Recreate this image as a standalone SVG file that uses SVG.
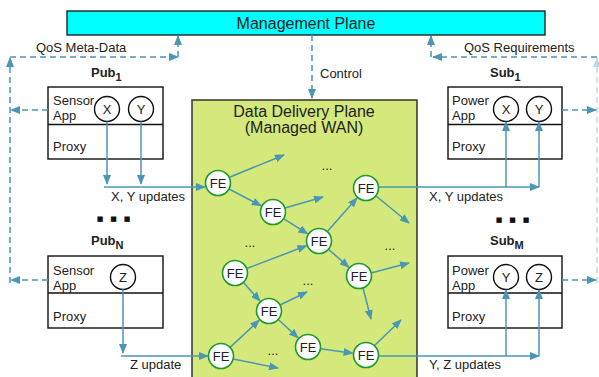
<svg xmlns="http://www.w3.org/2000/svg" width="599" height="377" viewBox="0 0 599 377">
<defs>
<marker id="ah" markerWidth="10" markerHeight="8" refX="9" refY="4" orient="auto" markerUnits="userSpaceOnUse">
<path d="M0,0 L10,4 L0,8 z" fill="#4a96b4"/>
</marker>
<style>
text{font-family:"Liberation Sans",Arial,sans-serif;fill:#222;}
.t13{font-size:13px;}
.big{font-size:16px;}
.bold{font-weight:bold;font-size:13px;}
.box{fill:#fff;stroke:#111;stroke-width:1.4;}
.c{fill:#fff;stroke:#111;stroke-width:1.4;}
.fe{fill:#fff;stroke:#1f9a2c;stroke-width:1.6;}
.ln{fill:none;stroke:#4a96b4;stroke-width:1.5;marker-end:url(#ah);}
.dsa{fill:none;stroke:#4a96b4;stroke-width:1.5;stroke-dasharray:6 4;marker-end:url(#ah);}
.dots{font-family:"DejaVu Sans",sans-serif;font-size:7px;text-anchor:middle;fill:#111;}
.el{font-size:13px;text-anchor:middle;}
.mid{text-anchor:middle;}
</style>
</defs>

<g id="management-plane">
<rect x="67" y="11" width="478" height="24" fill="#00ffff" stroke="#222" stroke-width="1.4"/>
<text x="306" y="29" class="big mid">Management Plane</text>
</g>

<g id="data-delivery-plane">
<rect x="192" y="100" width="225" height="285" fill="#d4e87b" stroke="#333" stroke-width="1.5"/>
<text x="304" y="117" class="big mid">Data Delivery Plane</text>
<text x="304" y="133" class="big mid">(Managed WAN)</text>
<text x="327" y="170" class="el">...</text>
<text x="250" y="247" class="el">...</text>
<text x="390" y="250" class="el">...</text>
<text x="308" y="285" class="el">...</text>
<text x="273" y="355" class="el">...</text>
</g>

<g id="pub1">
<text x="91" y="77" class="bold">Pub<tspan dy="4" font-size="11">1</tspan></text>
<rect x="48" y="87" width="115" height="72" class="box"/>
<line x1="48" y1="124.5" x2="163" y2="124.5" stroke="#111" stroke-width="1.4"/>
<text x="53" y="105" class="t13">Sensor</text>
<text x="53" y="120" class="t13">App</text>
<text x="53" y="151" class="t13">Proxy</text>
<circle cx="107" cy="109" r="12.5" class="c"/>
<text x="107" y="114" class="t13 mid">X</text>
<circle cx="141" cy="109" r="12.5" class="c"/>
<text x="141" y="114" class="t13 mid">Y</text>
</g>

<g id="pubN">
<text x="91" y="245" class="bold">Pub<tspan dy="4" font-size="11">N</tspan></text>
<rect x="48" y="256" width="115" height="72" class="box"/>
<line x1="48" y1="293" x2="163" y2="293" stroke="#111" stroke-width="1.4"/>
<text x="53" y="275" class="t13">Sensor</text>
<text x="53" y="290" class="t13">App</text>
<text x="53" y="321" class="t13">Proxy</text>
<circle cx="123" cy="277" r="12.5" class="c"/>
<text x="123" y="282" class="t13 mid">Z</text>
</g>

<g id="sub1">
<text x="490" y="77" class="bold">Sub<tspan dy="4" font-size="11">1</tspan></text>
<rect x="448" y="87" width="114" height="72" class="box"/>
<line x1="448" y1="124.5" x2="562" y2="124.5" stroke="#111" stroke-width="1.4"/>
<text x="452" y="105" class="t13">Power</text>
<text x="452" y="120" class="t13">App</text>
<text x="452" y="151" class="t13">Proxy</text>
<circle cx="506" cy="109" r="12.5" class="c"/>
<text x="506" y="114" class="t13 mid">X</text>
<circle cx="539" cy="109" r="12.5" class="c"/>
<text x="539" y="114" class="t13 mid">Y</text>
</g>

<g id="subM">
<text x="490" y="245" class="bold">Sub<tspan dy="4" font-size="11">M</tspan></text>
<rect x="448" y="256" width="114" height="72" class="box"/>
<line x1="448" y1="293" x2="562" y2="293" stroke="#111" stroke-width="1.4"/>
<text x="452" y="275" class="t13">Power</text>
<text x="452" y="290" class="t13">App</text>
<text x="452" y="321" class="t13">Proxy</text>
<circle cx="506" cy="277" r="12.5" class="c"/>
<text x="506" y="282" class="t13 mid">Y</text>
<circle cx="539" cy="277" r="12.5" class="c"/>
<text x="539" y="282" class="t13 mid">Z</text>
</g>

<g id="labels">
<text x="36" y="52" class="t13">QoS Meta-Data</text>
<text x="464" y="52" class="t13">QoS Requirements</text>
<text x="320" y="78" class="t13">Control</text>
<text x="111" y="201" class="t13">X, Y updates</text>
<text x="429" y="201" class="t13">X, Y updates</text>
<text x="130" y="369" class="t13">Z update</text>
<text x="429" y="369" class="t13">Y, Z updates</text>
<text y="221" class="dots"><tspan x="100">■</tspan><tspan x="113.5">■</tspan><tspan x="127">■</tspan></text>
<text y="222" class="dots"><tspan x="499">■</tspan><tspan x="512.5">■</tspan><tspan x="526">■</tspan></text>
</g>

<g id="connectors">
<path d="M10,283 L10,58" class="dsa"/>
<path d="M10,57 L178,57" class="dsa"/>
<path d="M178,57 L178,36" class="dsa"/>
<path d="M48,110 L11,110" class="dsa"/>
<path d="M48,280 L11,280" class="dsa"/>
<path d="M597,283 L597,58" class="dsa" opacity="0.35"/>
<path d="M597,57 L433,57" class="dsa"/>
<path d="M431,57 L431,36" class="dsa"/>
<path d="M562,110 L596,110" class="dsa"/>
<path d="M562,280 L596,280" class="dsa"/>
<path d="M312,35 L312,98" class="dsa"/>

<path d="M107,121.5 L107,184" class="ln"/>
<path d="M141,121.5 L141,184" class="ln"/>
<path d="M104,187 L205,187" class="ln"/>
<path d="M123,289.5 L123,353" class="ln"/>
<path d="M121,356 L208,356" class="ln"/>
<path d="M378.5,187 L539,187" class="ln"/>
<path d="M506,187 L506,122" class="ln"/>
<path d="M539,187 L539,122" class="ln"/>
<path d="M378.5,356 L539,356" class="ln"/>
<path d="M506,356 L506,290" class="ln"/>
<path d="M539,356 L539,290" class="ln"/>

<path d="M230,177 L284,155" class="ln"/>
<path d="M229,189 L261,205.7" class="ln"/>
<path d="M285,208 L323,197" class="ln"/>
<path d="M283.6,218.7 L307.6,233.8" class="ln"/>
<path d="M327.3,231.6 L357,198.1" class="ln"/>
<path d="M376,196 L409,223" class="ln"/>
<path d="M328.4,249.2 L348.8,267.1" class="ln"/>
<path d="M246.7,268.5 L306.4,245.8" class="ln"/>
<path d="M243.3,282.3 L260,301" class="ln"/>
<path d="M280,305 L307,292" class="ln"/>
<path d="M278.2,319.5 L298.1,337.8" class="ln"/>
<path d="M371,273 L409,263" class="ln"/>
<path d="M363,288 L371,319" class="ln"/>
<path d="M320.4,348.7 L352.6,353.2" class="ln"/>
<path d="M230.1,347.4 L259.2,320.2" class="ln"/>
<path d="M233,359 L278,368" class="ln"/>
<path d="M374,346 L401,320" class="ln"/>
</g>

<g id="fe1"><circle cx="218" cy="183" r="12.5" class="fe"/><text x="218" y="188" class="t13 mid">FE</text></g>
<g id="fe2"><circle cx="273" cy="212" r="12.5" class="fe"/><text x="273" y="217" class="t13 mid">FE</text></g>
<g id="fe3"><circle cx="319" cy="241" r="12.5" class="fe"/><text x="319" y="246" class="t13 mid">FE</text></g>
<g id="fe4"><circle cx="366" cy="188" r="12.5" class="fe"/><text x="366" y="193" class="t13 mid">FE</text></g>
<g id="fe5"><circle cx="235" cy="273" r="12.5" class="fe"/><text x="235" y="278" class="t13 mid">FE</text></g>
<g id="fe6"><circle cx="269" cy="311" r="12.5" class="fe"/><text x="269" y="316" class="t13 mid">FE</text></g>
<g id="fe7"><circle cx="359" cy="276" r="12.5" class="fe"/><text x="359" y="281" class="t13 mid">FE</text></g>
<g id="fe8"><circle cx="308" cy="347" r="12.5" class="fe"/><text x="308" y="352" class="t13 mid">FE</text></g>
<g id="fe9"><circle cx="221" cy="356" r="12.5" class="fe"/><text x="221" y="361" class="t13 mid">FE</text></g>
<g id="fe10"><circle cx="366" cy="355" r="12.5" class="fe"/><text x="366" y="360" class="t13 mid">FE</text></g>
</svg>
